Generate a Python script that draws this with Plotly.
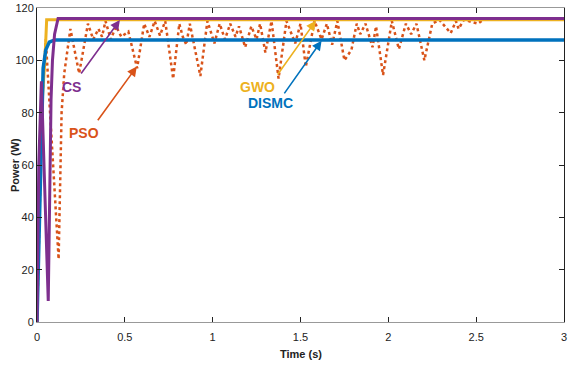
import plotly.graph_objects as go

# ---- data ----
pso_t = [0, 0.03, 0.05, 0.09, 0.123, 0.14, 0.155, 0.19, 0.24, 0.29, 0.32, 0.35, 0.37, 0.39, 0.42, 0.45,
         0.48, 0.52, 0.57, 0.61, 0.64, 0.67, 0.70, 0.73, 0.775, 0.81, 0.83, 0.85, 0.87, 0.93, 0.97,
         1.01, 1.04, 1.07, 1.10, 1.13, 1.15, 1.185, 1.22, 1.25, 1.27, 1.30, 1.335, 1.375, 1.42, 1.47,
         1.50, 1.53, 1.58, 1.62, 1.65, 1.68, 1.71, 1.75, 1.79, 1.82, 1.84, 1.87, 1.91, 1.93, 1.97,
         2.02, 2.06, 2.10, 2.13, 2.16, 2.205, 2.25, 2.29, 2.355, 2.385, 2.40, 2.43, 2.51, 2.55, 3.0]
pso_p = [0, 85, 108, 60, 24, 80, 95, 112, 95, 114, 108, 112, 109, 115, 108, 113,
         109, 111, 97, 114, 109, 115, 109.5, 115, 93, 114, 109, 106, 114, 94, 115,
         106.5, 114, 108, 114, 109, 113, 105, 113, 108, 114, 103, 115, 93, 115, 106.5,
         114, 97.5, 115, 108, 114, 106, 115, 100, 104, 114, 110, 114, 105, 113, 94.4,
         115, 104.3, 114, 110, 114, 100, 114, 115.5, 110.4, 115, 112, 115.5, 114, 116, 116]

gwo_t = [0, 0.01, 0.03, 0.045, 0.055, 3.0]
gwo_p = [0, 40, 85, 100, 115.5, 115.5]

cs_t = [0, 0.01, 0.025, 0.064, 0.08, 0.088, 0.10, 0.12, 3.0]
cs_p = [0, 60, 92, 8, 85, 100, 110, 116, 116]

dismc_t = [0, 0.02, 0.035, 0.05, 0.07, 0.10, 3.0]
dismc_p = [0, 60, 97, 104, 107, 107.8, 107.8]

x_ticks = [0, 0.5, 1, 1.5, 2, 2.5, 3]
x_tick_labels = ["0", "0.5", "1", "1.5", "2", "2.5", "3"]
y_ticks = [0, 20, 40, 60, 80, 100, 120]

# colours
C_PSO = "#D95319"
C_GWO = "#EDB120"
C_CS = "#7E2F8E"
C_DIS = "#0072BD"

FONT = "Liberation Sans Narrow, Arial Narrow, Liberation Sans, Arial, sans-serif"

fig = go.Figure()
fig.add_trace(go.Scatter(x=pso_t, y=pso_p, mode="lines", name="PSO",
                         line=dict(color=C_PSO, width=2.5, dash="dot")))
fig.add_trace(go.Scatter(x=gwo_t, y=gwo_p, mode="lines", name="GWO",
                         line=dict(color=C_GWO, width=3)))
fig.add_trace(go.Scatter(x=dismc_t, y=dismc_p, mode="lines", name="DISMC",
                         line=dict(color=C_DIS, width=3.5)))
fig.add_trace(go.Scatter(x=cs_t, y=cs_p, mode="lines", name="CS",
                         line=dict(color=C_CS, width=3)))

# labels and arrows: (text, colour, text pos, arrow tail, arrow tip)
labels = [
    ("CS", C_CS, (0.199, 89.8), (0.245, 94.4), (0.472, 115.4)),
    ("PSO", C_PSO, (0.268, 72.2), (0.34, 76.5), (0.568, 97.6)),
    ("GWO", C_GWO, (1.258, 89.8), (1.364, 94.0), (1.587, 115.1)),
    ("DISMC", C_DIS, (1.332, 83.7), (1.402, 86.8), (1.62, 107.5)),
]
for txt, col, tpos, tail, tip in labels:
    fig.add_annotation(x=tip[0], y=tip[1], ax=tail[0], ay=tail[1], xref="x", yref="y",
                       axref="x", ayref="y", text="", showarrow=True, arrowhead=2,
                       arrowsize=1.2, arrowwidth=1.6, arrowcolor=col)
    fig.add_annotation(x=tpos[0], y=tpos[1], xref="x", yref="y", text="<b>%s</b>" % txt,
                       showarrow=False, font=dict(family=FONT, size=14, color=col))

# axis titles
fig.add_annotation(x=0.5, y=-0.102, xref="paper", yref="paper", text="<b>Time (s)</b>",
                   xanchor="center", yanchor="middle",
                   showarrow=False, font=dict(family=FONT, size=11, color="#222"))
fig.add_annotation(x=-0.0417, y=0.5, xref="paper", yref="paper", text="<b>Power (W)</b>",
                   xanchor="center", yanchor="middle",
                   textangle=-90, showarrow=False, font=dict(family=FONT, size=11, color="#222"))

fig.update_layout(
    width=568, height=365,
    margin=dict(l=37, r=4, t=8, b=43),
    paper_bgcolor="white", plot_bgcolor="white",
    showlegend=False,
    font=dict(family=FONT, size=11, color="#222"),
)
fig.update_xaxes(range=[0, 3], tickvals=x_ticks, ticktext=x_tick_labels, automargin=False,
                 ticks="inside", ticklen=5, tickcolor="#222", showgrid=False, zeroline=False,
                 showline=True, linecolor="#999", linewidth=1, mirror="ticks",
                 ticklabelstandoff=5,
                 tickfont=dict(family=FONT, size=11, color="#222"))
fig.update_yaxes(range=[0, 120], tickvals=y_ticks, automargin=False,
                 ticks="inside", ticklen=5, tickcolor="#222", showgrid=False, zeroline=False,
                 showline=True, linecolor="#222", linewidth=1, mirror="ticks",
                 tickfont=dict(family=FONT, size=11, color="#222"))

fig.write_html("out.html", config={"displayModeBar": False},
               post_script="document.body.style.margin='0';")
